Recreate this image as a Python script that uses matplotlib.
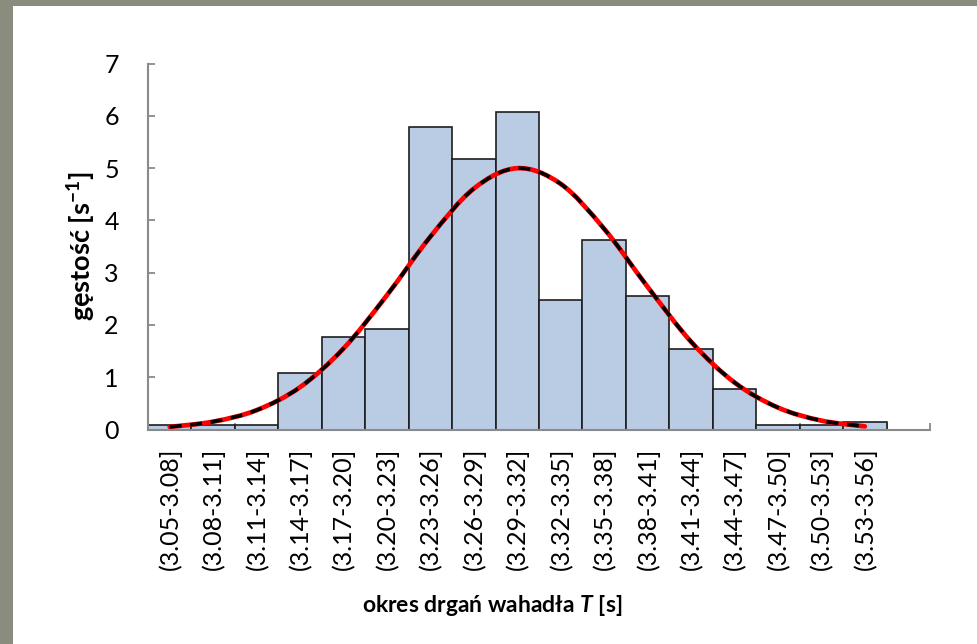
import matplotlib
matplotlib.use("Agg")
import matplotlib.pyplot as plt
import numpy as np
from matplotlib.path import Path
from matplotlib.patches import PathPatch, Rectangle

plt.rcParams['font.family'] = ['Lato', 'DejaVu Sans']
plt.rcParams['mathtext.default'] = 'regular'
plt.rcParams['mathtext.fontset'] = 'custom'
plt.rcParams['mathtext.it'] = 'Lato:italic:bold'
plt.rcParams['mathtext.rm'] = 'Lato:bold'

# przedzialy okresu T [s]
przedzialy = ['(3.05-3.08]', '(3.08-3.11]', '(3.11-3.14]', '(3.14-3.17]',
              '(3.17-3.20]', '(3.20-3.23]', '(3.23-3.26]', '(3.26-3.29]',
              '(3.29-3.32]', '(3.32-3.35]', '(3.35-3.38]', '(3.38-3.41]',
              '(3.41-3.44]', '(3.44-3.47]', '(3.47-3.50]', '(3.50-3.53]',
              '(3.53-3.56]']
# gestosc z histogramu [1/s]
gestosc = [0.08, 0.08, 0.08, 1.08, 1.77, 1.93, 5.79, 5.18, 6.08,
           2.47, 3.62, 2.55, 1.55, 0.77, 0.08, 0.08, 0.15]
# krzywa Gaussa odczytana w srodkach przedzialow
krzywa = [0.05, 0.15, 0.37, 0.81, 1.55, 2.57, 3.69, 4.61, 5.00,
          4.70, 3.84, 2.73, 1.68, 0.90, 0.42, 0.17, 0.06]
y_ticks = [0, 1, 2, 3, 4, 5, 6, 7]


def smooth_path(xs, ys):
    # wygladzona linia jak w Excelu (Catmull-Rom -> Bezier)
    pts = np.column_stack([xs, ys])
    ext = np.vstack([pts[0], pts, pts[-1]])
    verts = [pts[0]]
    codes = [Path.MOVETO]
    for i in range(1, len(ext) - 2):
        p0, p1, p2, p3 = ext[i - 1], ext[i], ext[i + 1], ext[i + 2]
        verts += [p1 + (p2 - p0) / 6, p2 - (p3 - p1) / 6, p2]
        codes += [Path.CURVE4] * 3
    return Path(verts, codes)


fig = plt.figure(figsize=(9.78, 6.44), dpi=100)
fig.patch.set_facecolor('white')
grey = '#8a8d7d'
fig.patches.append(Rectangle((0, 0), 13 / 978, 1, transform=fig.transFigure,
                             facecolor=grey, edgecolor='none', zorder=-10))
fig.patches.append(Rectangle((0, 1 - 6 / 644), 1, 6 / 644, transform=fig.transFigure,
                             facecolor=grey, edgecolor='none', zorder=-10))

ax = fig.add_axes([148 / 978, 214.5 / 644, (930 - 148) / 978, 365.8 / 644])
x = np.arange(len(przedzialy))
ax.bar(x, gestosc, width=1.0, color='#b9cce4', edgecolor='#1e1e1e', linewidth=1.2, zorder=2)

path = smooth_path(x, krzywa)
ax.add_patch(PathPatch(path, facecolor='none', edgecolor='#ff0000', linewidth=3.4,
                       capstyle='round', zorder=3))
ax.add_patch(PathPatch(path, facecolor='none', edgecolor='black', linewidth=2.6,
                       linestyle=(0, (3.3, 2.4)), zorder=4))

ax.set_xlim(-0.5, 17.5)
ax.set_ylim(0, 7)
ax.set_yticks(y_ticks)
ax.set_xticks(x)
ax.set_xticklabels(przedzialy, rotation=90, fontsize=18)
ax.set_xticks(np.arange(0.5, 18, 1.0), minor=True)
ax.tick_params(axis='x', which='major', length=0, pad=13)
ax.tick_params(axis='x', which='minor', direction='in', length=5, width=1.3, color='#8a8a8a')
ax.tick_params(axis='y', direction='in', length=5, width=1.3, color='#8a8a8a', pad=21, labelsize=18)

for s in ['top', 'right']:
    ax.spines[s].set_visible(False)
for s in ['left', 'bottom']:
    ax.spines[s].set_color('#8a8a8a')
    ax.spines[s].set_linewidth(1.5)
    ax.spines[s].set_zorder(5)

fig.text(82 / 978, 1 - 246 / 644, 'gęstość [s$^{-1}$]', rotation=90, fontsize=19.5,
         fontweight='bold', ha='center', va='center')
fig.text(492 / 978, 1 - 605 / 644, 'okres drgań wahadła $\\mathit{T}$ [s]', fontsize=16.5,
         fontweight='bold', ha='center', va='center')

fig.savefig('out.png', dpi=100, facecolor=fig.get_facecolor())
